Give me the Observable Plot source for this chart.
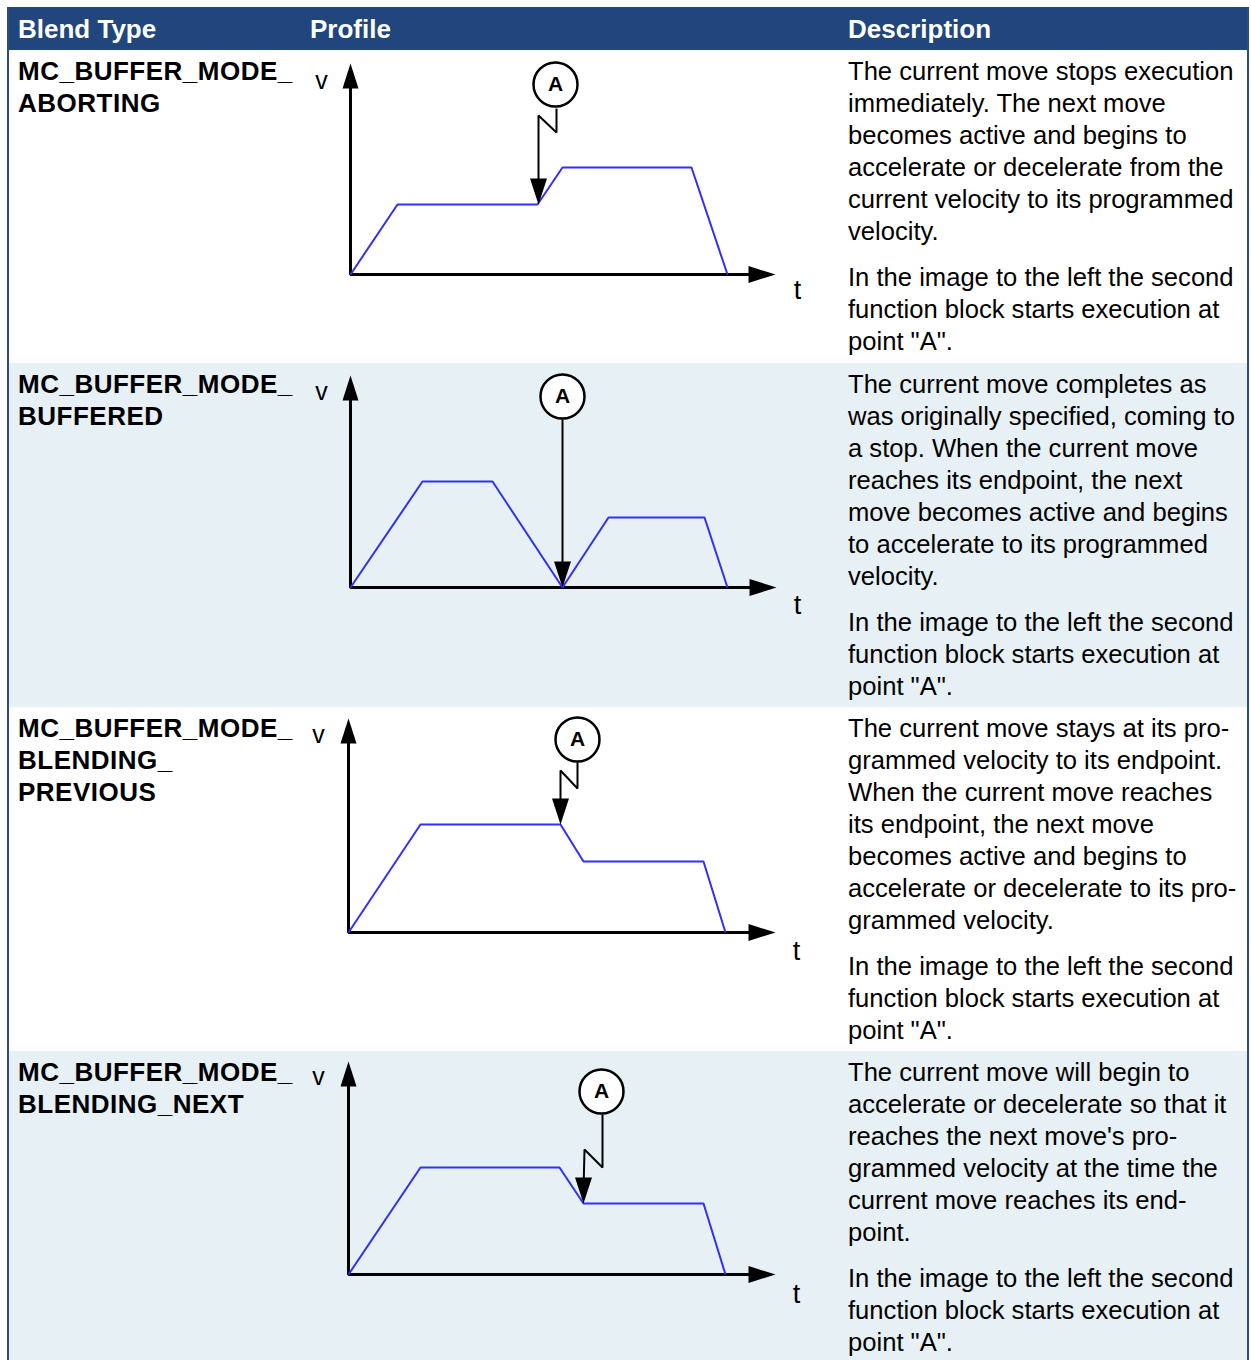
<!DOCTYPE html>
<html>
<head>
<meta charset="utf-8">
<script src="https://cdn.jsdelivr.net/npm/d3@7"></script>
<script src="https://cdn.jsdelivr.net/npm/@observablehq/plot@0.6"></script>
<style>
  html, body { margin: 0; padding: 0; background: #ffffff; }
  body { width: 1251px; height: 1360px; overflow: hidden; position: relative;
         font-family: "Liberation Sans", Arial, Helvetica, sans-serif; color: #000; }
  .abs { position: absolute; }
  .hdr { color: #ffffff; font-weight: bold; font-size: 26px; line-height: 32px; white-space: nowrap; }
  .blend { font-weight: bold; font-size: 26px; line-height: 32px; letter-spacing: 0.5px; white-space: nowrap; }
  .desc { font-size: 25.6px; line-height: 32px; white-space: nowrap; }
  .desc p { margin: 0 0 14px 0; }
</style>
</head>
<body>
<script>
// ---------- text content ----------
const columnHeaders = ["Blend Type", "Profile", "Description"];
const blendTypeLines = [
  ["MC_BUFFER_MODE_", "ABORTING"],
  ["MC_BUFFER_MODE_", "BUFFERED"],
  ["MC_BUFFER_MODE_", "BLENDING_", "PREVIOUS"],
  ["MC_BUFFER_MODE_", "BLENDING_NEXT"]
];
const secondParagraph = ["In the image to the left the second", "function block starts execution at", "point \"A\"."];
const descriptionLines = [
  ["The current move stops execution", "immediately. The next move", "becomes active and begins to",
   "accelerate or decelerate from the", "current velocity to its programmed", "velocity."],
  ["The current move completes as", "was originally specified, coming to", "a stop. When the current move",
   "reaches its endpoint, the next", "move becomes active and begins", "to accelerate to its programmed", "velocity."],
  ["The current move stays at its pro-", "grammed velocity to its endpoint.", "When the current move reaches",
   "its endpoint, the next move", "becomes active and begins to", "accelerate or decelerate to its pro-", "grammed velocity."],
  ["The current move will begin to", "accelerate or decelerate so that it", "reaches the next move's pro-",
   "grammed velocity at the time the", "current move reaches its end-", "point."]
];

// ---------- velocity profiles (t, v) ----------
const abortingT = [0, 47, 187, 212, 341, 377];
const abortingV = [0, 70, 70, 107, 107, 0];
const bufferedT = [0, 72, 142, 212, 258, 354, 377];
const bufferedV = [0, 106, 106, 0, 70, 70, 0];
const blendPrevT = [0, 72, 212, 235, 355, 377];
const blendPrevV = [0, 108, 108, 71, 71, 0];
const blendNextT = [0, 72, 211, 235, 355, 377];
const blendNextV = [0, 107, 107, 71, 71, 0];

// trigger ("A") lines ending in an arrow
const abortingTrigT = [206, 206, 188, 188];
const abortingTrigV = [166, 142, 159, 70];
const bufferedTrigT = [212, 212];
const bufferedTrigV = [168, 0];
const blendPrevTrigT = [229, 229, 212, 212];
const blendPrevTrigV = [170, 144, 162, 108];
const blendNextTrigT = [254, 254, 236, 235];
const blendNextTrigV = [160, 107, 125, 71];

// marker circles "A"
const markerT = [205, 212, 229, 253];
const markerV = [190, 191, 193, 183];
const markerLabel = "A";

// axes
const axisTipT = [425, 426, 427, 427];
const axisTipV = [211, 212, 214, 213];
const axisLabels = ["v", "t"];
const vLabelT = [-29, -29, -30, -30];
const vLabelV = [194, 196, 198, 198];
const tLabelT = [447, 447, 448, 448];
const tLabelV = [-16, -18, -19, -20];

// ---------- layout ----------
const rowTops = [50, 363, 707, 1051];
const rowBottoms = [363, 707, 1051, 1360];
const rowFills = ["#ffffff", "#e6f0f5", "#ffffff", "#e6f0f5"];
const chartOrigins = [[350, 274], [350, 587], [348, 932], [348, 1274]];

const profilesT = [abortingT, bufferedT, blendPrevT, blendNextT];
const profilesV = [abortingV, bufferedV, blendPrevV, blendNextV];
const triggersT = [abortingTrigT, bufferedTrigT, blendPrevTrigT, blendNextTrigT];
const triggersV = [abortingTrigV, bufferedTrigV, blendPrevTrigV, blendNextTrigV];

function el(tag, style, cls) {
  const e = document.createElement(tag);
  if (cls) e.className = cls;
  Object.assign(e.style, style);
  document.body.appendChild(e);
  return e;
}

// header
el("div", {left: "7px", top: "7px", width: "1241px", height: "43px", background: "#21457d"}, "abs");
const headerX = [18, 310, 848];
columnHeaders.forEach((h, i) => {
  const d = el("div", {left: headerX[i] + "px", top: "13px"}, "abs hdr");
  d.textContent = h;
});

// rows
rowTops.forEach((top, i) => {
  el("div", {left: "7px", top: top + "px", width: "1241px", height: (rowBottoms[i] - top) + "px", background: rowFills[i]}, "abs");
});
// table side borders
el("div", {left: "7px", top: "7px", width: "1.5px", height: "1353px", background: "#2a4c85"}, "abs");
el("div", {left: "1247px", top: "7px", width: "1.5px", height: "1353px", background: "#2a4c85"}, "abs");

// text
rowTops.forEach((top, i) => {
  const b = el("div", {left: "18px", top: (top + 5) + "px"}, "abs blend");
  b.innerHTML = blendTypeLines[i].join("<br>");
  const d = el("div", {left: "848px", top: (top + 5) + "px"}, "abs desc");
  const p1 = document.createElement("p");
  descriptionLines[i].forEach((ln, j) => {
    if (j) p1.appendChild(document.createElement("br"));
    p1.appendChild(document.createTextNode(ln));
  });
  const p2 = document.createElement("p");
  secondParagraph.forEach((ln, j) => {
    if (j) p2.appendChild(document.createElement("br"));
    p2.appendChild(document.createTextNode(ln));
  });
  d.appendChild(p1);
  d.appendChild(p2);
});

// filled arrowhead symbol: tip at the anchor, pointing up before rotation
function headSymbol(w, len) {
  return {
    draw(ctx) {
      ctx.moveTo(0, 0);
      ctx.lineTo(w / 2, len);
      ctx.lineTo(-w / 2, len);
      ctx.closePath();
    }
  };
}

const W = 520, H = 300, X0 = 50, Y0 = 224;

function profileChart(i) {
  const prof = profilesT[i].map((t, j) => ({t, v: profilesV[i][j]}));
  const trigT = triggersT[i], trigV = triggersV[i];
  const last = trigT.length - 1;
  const trig = trigT.map((t, j) => ({t, v: j === last ? trigV[j] + 12 : trigV[j]}));
  const trigTip = [{t: trigT[last], v: trigV[last]}];
  const axes = [{t: 0, v: axisTipV[i] - 12}, {t: 0, v: 0}, {t: axisTipT[i] - 12, v: 0}];
  const marker = [{t: markerT[i], v: markerV[i], label: markerLabel}];
  const labels = [
    {t: vLabelT[i], v: vLabelV[i], label: axisLabels[0]},
    {t: tLabelT[i], v: tLabelV[i], label: axisLabels[1]}
  ];
  return Plot.plot({
    width: W, height: H, margin: 0,
    x: {domain: [-X0, W - X0], axis: null},
    y: {domain: [Y0 - H, Y0], axis: null},
    style: {background: "transparent", overflow: "visible", fontFamily: "'Liberation Sans', Arial, sans-serif"},
    marks: [
      Plot.line(axes, {x: "t", y: "v", stroke: "#000", strokeWidth: 3, strokeLinejoin: "miter", strokeLinecap: "butt"}),
      Plot.dot([{t: 0, v: axisTipV[i]}], {x: "t", y: "v", symbol: headSymbol(16, 25), fill: "#000", stroke: "none", rotate: 0}),
      Plot.dot([{t: axisTipT[i], v: 0}], {x: "t", y: "v", symbol: headSymbol(17, 27), fill: "#000", stroke: "none", rotate: 90}),
      Plot.line(prof, {x: "t", y: "v", stroke: "#3030f6", strokeWidth: 2, strokeLinejoin: "miter", strokeLinecap: "butt"}),
      Plot.line(trig, {x: "t", y: "v", stroke: "#000", strokeWidth: 2, strokeLinejoin: "miter", strokeLinecap: "butt"}),
      Plot.dot(trigTip, {x: "t", y: "v", symbol: headSymbol(17, 26), fill: "#000", stroke: "none", rotate: 180}),
      Plot.dot(marker, {x: "t", y: "v", r: 22, fill: "#fff", stroke: "#000", strokeWidth: 2.5}),
      Plot.text(marker, {x: "t", y: "v", text: "label", fontSize: 21, fontWeight: "bold", fill: "#000", textAnchor: "middle", lineAnchor: "middle"}),
      Plot.text(labels.slice(0, 1), {x: "t", y: "v", text: "label", fontSize: 25, fill: "#000", textAnchor: "middle", lineAnchor: "middle"}),
      Plot.text(labels.slice(1), {x: "t", y: "v", text: "label", fontSize: 27, fill: "#000", textAnchor: "middle", lineAnchor: "middle"})
    ]
  });
}

chartOrigins.forEach(([ox, oy], i) => {
  const wrap = el("div", {left: (ox - X0) + "px", top: (oy - Y0) + "px", width: W + "px", height: H + "px"}, "abs");
  wrap.appendChild(profileChart(i));
});
</script>
</body>
</html>
